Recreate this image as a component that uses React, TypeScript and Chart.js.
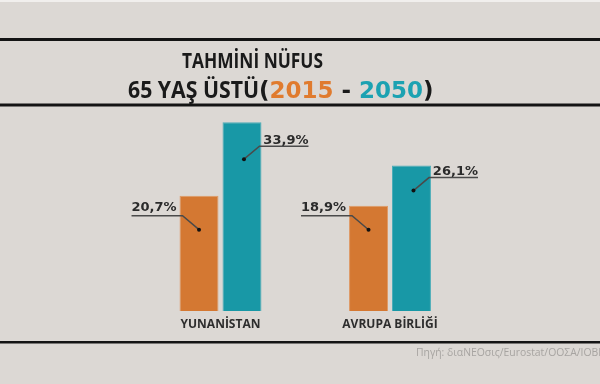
import { useEffect, useRef } from 'react';
import { Chart, registerables } from 'chart.js';

Chart.register(...registerables);

const categories = ['YUNANİSTAN', 'AVRUPA BİRLİĞİ'];
const seriesNames = ['2015', '2050'];
const values2015 = [20.7, 18.9];
const values2050 = [33.9, 26.1];
const titleLine1 = 'TAHMİNİ NÜFUS';
const titleLine2 = '65 YAŞ ÜSTÜ';
const sourceText = 'Πηγή: διαNEOσις/Eurostat/ΟΟΣΑ/ΙΟΒΕ';

const ORANGE = '#d47832';
const TEAL = '#1898a6';
const BG = '#dcd8d4';
const DARK = '#1a1a1a';
// leader line drop (px below the bar top) per series, per category
const leaderDrop = [
  [20, 10],
  [24, 12],
];

const fmt = (v: number) => v.toFixed(1).replace('.', ',') + '%';

function fitText(ctx: CanvasRenderingContext2D, text: string, font: string, x: number, y: number, w: number, color: string) {
  ctx.save();
  ctx.font = font;
  ctx.fillStyle = color;
  ctx.textAlign = 'left';
  ctx.textBaseline = 'alphabetic';
  const m = ctx.measureText(text).width;
  ctx.translate(x, y);
  ctx.scale(w / m, 1);
  ctx.fillText(text, 0, 0);
  ctx.restore();
}

const decor = {
  id: 'decor',
  beforeDraw(chart: any) {
    const ctx: CanvasRenderingContext2D = chart.ctx;
    const w = chart.width;
    const h = chart.height;
    ctx.save();
    ctx.fillStyle = BG;
    ctx.fillRect(0, 0, w, h);
    ctx.fillStyle = '#f1efed';
    ctx.fillRect(0, 0, w, 2);
    ctx.fillStyle = '#141414';
    ctx.fillRect(0, 38, w, 3);
    ctx.fillRect(0, 103.5, w, 3);
    ctx.fillRect(0, 341, w, 2.5);

    fitText(ctx, titleLine1, 'bold 21px "Open Sans"', 182, 68.3, 141, DARK);
    fitText(ctx, titleLine2, 'bold 23px "Open Sans"', 128, 98.3, 131, DARK);

    ctx.font = 'bold 23px "DejaVu Sans"';
    ctx.textBaseline = 'alphabetic';
    ctx.textAlign = 'left';
    const parts: [string, string][] = [
      ['(', DARK],
      [seriesNames[0], '#e07b2e'],
      [' - ', DARK],
      [seriesNames[1], '#1ca2b2'],
      [')', DARK],
    ];
    let x = 259;
    for (const [t, c] of parts) {
      ctx.fillStyle = c;
      ctx.fillText(t, x, 98.3);
      x += ctx.measureText(t).width;
    }

    ctx.font = '10.4px "Open Sans"';
    ctx.fillStyle = '#a7a4a1';
    ctx.fillText(sourceText, 416, 355.7);
    ctx.restore();
  },
  afterDatasetsDraw(chart: any) {
    const ctx: CanvasRenderingContext2D = chart.ctx;
    ctx.save();
    chart.data.datasets.forEach((ds: any, di: number) => {
      const meta = chart.getDatasetMeta(di);
      meta.data.forEach((bar: any, i: number) => {
        const { x, y, width } = bar.getProps(['x', 'y', 'width'], true);
        const left = x - width / 2;
        const right = x + width / 2;
        const ly = y + leaderDrop[di][i];
        const label = fmt(ds.data[i]);
        ctx.strokeStyle = '#4a4a4a';
        ctx.lineWidth = 1.5;
        ctx.fillStyle = '#2b2b2b';
        ctx.font = 'bold 13px "DejaVu Sans"';
        ctx.textBaseline = 'alphabetic';
        let dx: number, dy: number;
        if (di === 0) {
          dx = x;
          dy = ly + 14;
          ctx.beginPath();
          ctx.moveTo(left - 48, ly);
          ctx.lineTo(left + 3, ly);
          ctx.lineTo(dx, dy);
          ctx.stroke();
          ctx.textAlign = 'left';
          ctx.fillText(label, left - 48, ly - 5);
        } else {
          dx = x + 2;
          dy = ly + 13;
          ctx.beginPath();
          ctx.moveTo(dx, dy);
          ctx.lineTo(right - 2, ly);
          ctx.lineTo(right + 47, ly);
          ctx.stroke();
          ctx.textAlign = 'right';
          ctx.fillText(label, right + 47, ly - 2.5);
        }
        ctx.fillStyle = '#111';
        ctx.beginPath();
        ctx.arc(dx, dy, 2, 0, Math.PI * 2);
        ctx.fill();
      });
    });
    ctx.restore();
  },
};

export default function App() {
  const ref = useRef<HTMLCanvasElement>(null);
  useEffect(() => {
    document.body.style.margin = '0';
    if (!ref.current) return;
    const chart = new Chart(ref.current, {
      type: 'bar',
      data: {
        labels: categories,
        datasets: [
          { label: seriesNames[0], data: values2015, backgroundColor: ORANGE, borderColor: '#df9a66', borderWidth: 1, categoryPercentage: 0.507, barPercentage: 0.907 },
          { label: seriesNames[1], data: values2050, backgroundColor: TEAL, borderColor: '#4cadb8', borderWidth: 1, categoryPercentage: 0.507, barPercentage: 0.907 },
        ],
      },
      options: {
        responsive: false,
        animation: false,
        layout: { padding: { left: 135.75, right: 125.25, top: 116, bottom: 0 } },
        plugins: { legend: { display: false }, tooltip: { enabled: false }, title: { display: false } },
        scales: {
          x: {
            grid: { display: false, drawTicks: false },
            border: { display: false },
            ticks: { color: '#2d2d2d', font: { family: '"Open Sans"', weight: 'bold', size: 12 }, padding: 6 },
            afterFit: (s: any) => {
              s.height = 73;
            },
          },
          y: { display: false, min: 0, max: 35 },
        },
      },
      plugins: [decor],
    });
    return () => chart.destroy();
  }, []);
  return <canvas ref={ref} width={600} height={384} style={{ display: 'block', width: 600, height: 384 }} />;
}
